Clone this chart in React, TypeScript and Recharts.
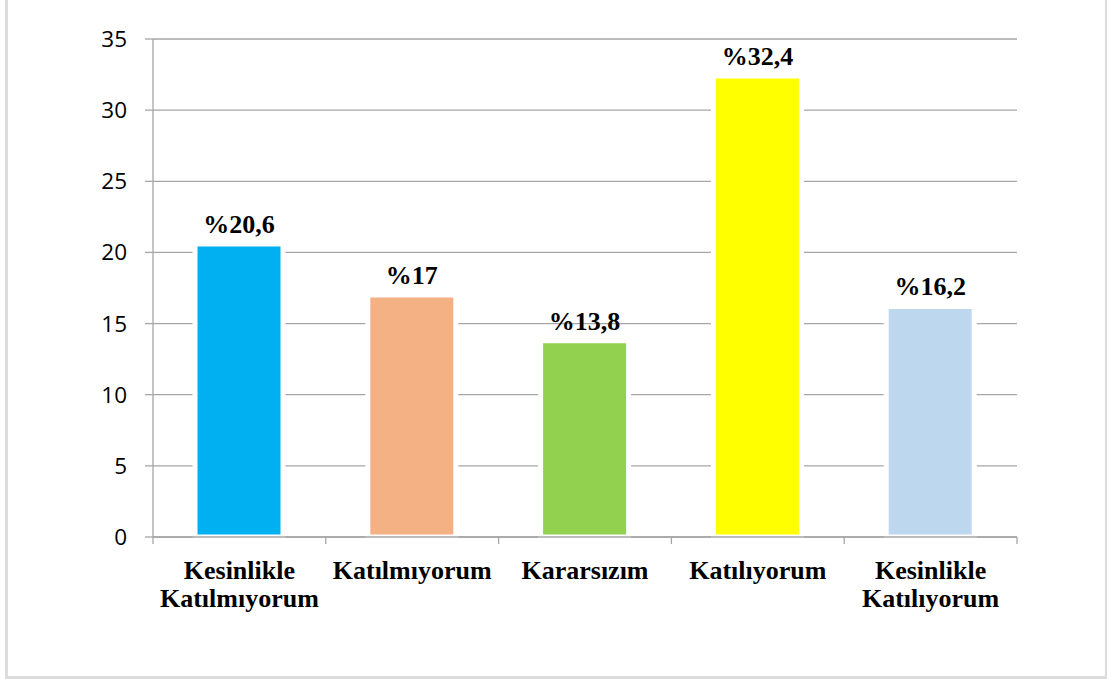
import React from 'react';
import { BarChart, Bar, XAxis, YAxis, CartesianGrid, LabelList, Cell } from 'recharts';

const categories = ['Kesinlikle\nKatılmıyorum', 'Katılmıyorum', 'Kararsızım', 'Katılıyorum', 'Kesinlikle\nKatılıyorum'];
const values = [20.6, 17, 13.8, 32.4, 16.2];
const colors = ['#00B0F0', '#F4B183', '#92D050', '#FFFF00', '#BDD7EE'];
const yTicks = [0, 5, 10, 15, 20, 25, 30, 35];

const data = categories.map((name, i) => ({ name, value: values[i] }));

const GRID = '#a6a6a6';
const HALF_BAND = 86.4;
const SERIF = 'Liberation Serif, Times New Roman, Tinos, serif';

const XTick = (props: any) => {
  const { x, y, payload, index } = props;
  const lines = String(payload.value).split('\n');
  return (
    <g>
      <line x1={x - HALF_BAND} x2={x - HALF_BAND} y1={y} y2={y + 7} stroke={GRID} strokeWidth={1.3} />
      {index === categories.length - 1 && (
        <line x1={x + HALF_BAND} x2={x + HALF_BAND} y1={y} y2={y + 7} stroke={GRID} strokeWidth={1.3} />
      )}
      <text textAnchor="middle" style={{ fontFamily: SERIF, fontWeight: 700, fontSize: 26 }} fill="#000">
        {lines.map((l, i) => (
          <tspan key={i} x={x} y={y + 42 + i * 28}>{l}</tspan>
        ))}
      </text>
    </g>
  );
};

const fmt = (v: any) => '%' + String(v).replace('.', ',');

export default function App() {
  return (
    <div style={{ position: 'absolute', left: 0, top: 0, width: 1107, height: 679, background: '#fff', overflow: 'hidden' }}>
      <div style={{ position: 'absolute', left: 5, top: -3, width: 1097, height: 676, border: '3px solid #dcdcdc' }} />
      <BarChart width={1107} height={679} data={data} margin={{ top: 39, right: 90, left: 0, bottom: 0 }}>
        <CartesianGrid vertical={false} stroke={GRID} strokeWidth={1.3} />
        <XAxis
          dataKey="name"
          height={142}
          interval={0}
          tickLine={false}
          tickSize={0}
          tickMargin={0}
          axisLine={{ stroke: GRID, strokeWidth: 1.3 }}
          tick={<XTick />}
        />
        <YAxis
          width={153}
          domain={[0, 35]}
          ticks={yTicks}
          interval={0}
          tickSize={8}
          tickMargin={18}
          axisLine={{ stroke: GRID, strokeWidth: 1.3 }}
          tickLine={{ stroke: GRID, strokeWidth: 1.3 }}
          tick={{ fill: '#000', fontSize: 22.5, fontFamily: 'Open Sans, sans-serif' }}
        />
        <Bar dataKey="value" barSize={88} stroke="#fff" strokeWidth={5} isAnimationActive={false}>
          {data.map((d, i) => (
            <Cell key={i} fill={colors[i]} />
          ))}
          <LabelList
            dataKey="value"
            position="top"
            offset={11}
            formatter={fmt}
            fill="#000"
            fontSize={26}
            fontWeight={700}
            fontFamily={SERIF}
          />
        </Bar>
      </BarChart>
    </div>
  );
}
